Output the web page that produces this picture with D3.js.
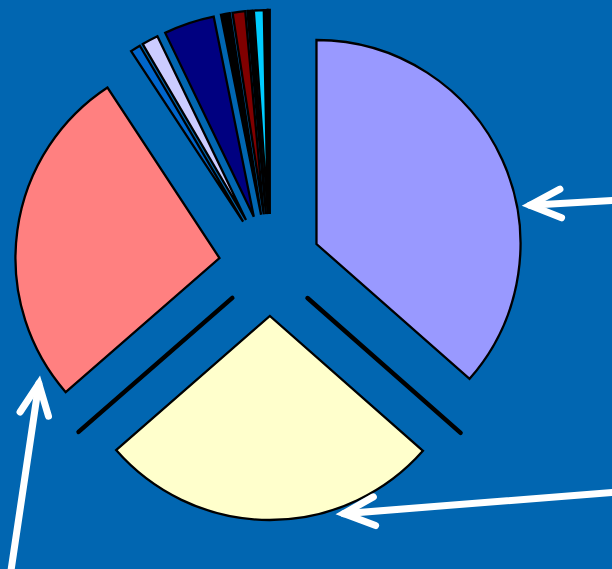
<!DOCTYPE html>
<html>
<head>
<meta charset="utf-8">
<script src="https://cdn.jsdelivr.net/npm/d3@7/dist/d3.min.js"></script>
<style>
  html, body { margin: 0; padding: 0; background: #0166B1; }
  svg { display: block; }
</style>
</head>
<body>
<svg id="chart" width="612" height="569"></svg>
<script>
// ---- data (percent shares, clockwise from 12 o'clock) ----
const categories = ["A", "B", "C", "D", "E", "F", "G", "H", "I", "J", "K", "L"];
const values     = [36.5, 27.1, 27.17, 0.8, 1.3, 4.0, 0.7, 1.0, 0.36, 0.78, 0.17, 0.14];
const colors     = ["#9999FF", "#FFFFCC", "#FF8080", "#0066CC", "#CCCCFF", "#000080",
                    "#000000", "#800000", "#000000", "#00CCFF", "#000000", "#FFFF99"];
// divider lines drawn at the end boundary of these slices
const dividerAfter = [0, 1];
// arrows: slice index, tip (angle deg, radius) and tail (angle deg, radius) relative to the slice apex
const arrowSlice   = [0, 1, 2];
const arrowTipAng  = [79.7, 159.5, 235.2];
const arrowTipRad  = [217, 211, 220];
const arrowTailAng = [81.7, 117, 213.4];
const arrowTailRad = [303, 388, 380];

// ---- layout ----
const W = 612, H = 569;
const cx = 270, cy = 265, R = 204, explode = 51;

const svg = d3.select("#chart");
svg.append("rect").attr("width", W).attr("height", H).attr("fill", "#0166B1");

const pie = d3.pie().sort(null).value(d => d).startAngle(0).endAngle(2 * Math.PI);
const arcs = pie(values);
const arc = d3.arc().innerRadius(0).outerRadius(R);

const polar = (a, r) => [Math.sin(a) * r, -Math.cos(a) * r];
const apex = d => {
  const m = (d.startAngle + d.endAngle) / 2;
  const [dx, dy] = polar(m, explode);
  return [cx + dx, cy + dy];
};

const g = svg.append("g");

// divider lines (through the pie centre, along slice boundaries)
g.selectAll("line.div").data(dividerAfter).enter().append("line")
  .attr("class", "div")
  .each(function (i) {
    const a = arcs[i].endAngle;
    const [x1, y1] = polar(a, 50), [x2, y2] = polar(a, 254);
    d3.select(this).attr("x1", cx + x1).attr("y1", cy + y1).attr("x2", cx + x2).attr("y2", cy + y2);
  })
  .attr("stroke", "#000").attr("stroke-width", 4.5).attr("stroke-linecap", "round");

// slices
g.selectAll("path.slice").data(arcs).enter().append("path")
  .attr("class", "slice")
  .attr("transform", d => { const [x, y] = apex(d); return `translate(${x},${y})`; })
  .attr("d", arc)
  .attr("fill", (d, i) => colors[i])
  .attr("stroke", "#000")
  .attr("stroke-width", 2.3)
  .attr("stroke-linejoin", "miter");

// arrows
const deg = Math.PI / 180;
arrowSlice.forEach((s, k) => {
  const [ax, ay] = apex(arcs[s]);
  const [tx, ty] = polar(arrowTipAng[k] * deg, arrowTipRad[k]);
  const [ux, uy] = polar(arrowTailAng[k] * deg, arrowTailRad[k]);
  const tip = [ax + tx, ay + ty], tail = [ax + ux, ay + uy];
  const dir = Math.atan2(tail[1] - tip[1], tail[0] - tip[0]);
  const headLen = 34, headAng = 25 * deg;
  const arm1 = [tip[0] + headLen * Math.cos(dir + headAng), tip[1] + headLen * Math.sin(dir + headAng)];
  const arm2 = [tip[0] + headLen * Math.cos(dir - headAng), tip[1] + headLen * Math.sin(dir - headAng)];
  const line = d3.line();
  svg.append("path").attr("d", line([tail, tip]))
    .attr("stroke", "#fff").attr("stroke-width", 7).attr("fill", "none").attr("stroke-linecap", "round");
  svg.append("path").attr("d", line([arm1, tip, arm2]))
    .attr("stroke", "#fff").attr("stroke-width", 7).attr("fill", "none")
    .attr("stroke-linecap", "round").attr("stroke-linejoin", "miter").attr("stroke-miterlimit", 10);
});
</script>
</body>
</html>
